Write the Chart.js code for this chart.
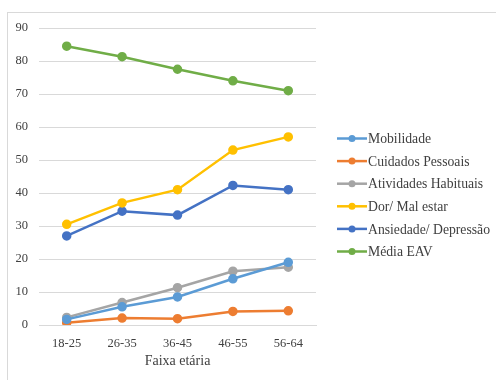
<!DOCTYPE html>
<html>
<head>
<meta charset="utf-8">
<script src="https://cdn.jsdelivr.net/npm/chart.js@4/dist/chart.umd.min.js"></script>
<style>
  html, body { margin: 0; padding: 0; background: #fff; }
  #moldura {
    position: absolute; left: 7px; top: 12px; width: 600px; height: 500px;
    border: 1px solid #d9d9d9; box-sizing: border-box;
  }
  #wrap { position: absolute; left: 0; top: 0; width: 496px; height: 380px; }
</style>
</head>
<body>
<div id="moldura"></div>
<div id="wrap"><canvas id="chartLinhas" width="496" height="380"></canvas></div>
<script>
"use strict";

// Faixas etárias (eixo X) e escores por dimensão
var faixas = ['18-25', '26-35', '36-45', '46-55', '56-64'];

var mobilidade  = [1.7, 5.5, 8.5, 14.0, 19.0];
var cuidados    = [0.7, 2.1, 1.9, 4.1, 4.3];
var atividades  = [2.3, 6.8, 11.3, 16.3, 17.5];
var dor         = [30.5, 37.0, 41.0, 53.0, 57.0];
var ansiedade   = [27.0, 34.5, 33.3, 42.3, 41.0];
var mediaEAV    = [84.5, 81.3, 77.5, 74.0, 71.0];

var FONTE = "'Liberation Serif', 'Times New Roman', serif";

function serie(label, data, cor) {
  return {
    label: label, data: data,
    borderColor: cor, backgroundColor: cor,
    pointBackgroundColor: cor, pointBorderColor: cor,
    borderWidth: 2.5, pointRadius: 3.5, pointHoverRadius: 3.5,
    tension: 0
  };
}

// legenda desenhada à direita: traço + círculo + texto
var legendaLateral = {
  id: 'legendaLateral',
  afterDraw: function(chart) {
    var ctx = chart.ctx;
    var x0 = 337, y0 = 138.5, passo = 22.6;
    ctx.save();
    chart.data.datasets.forEach(function(ds, i) {
      var y = y0 + i * passo;
      ctx.strokeStyle = ds.borderColor;
      ctx.lineWidth = 2.5;
      ctx.beginPath();
      ctx.moveTo(x0, y);
      ctx.lineTo(x0 + 30, y);
      ctx.stroke();
      ctx.fillStyle = ds.borderColor;
      ctx.beginPath();
      ctx.arc(x0 + 15, y, 3.5, 0, Math.PI * 2);
      ctx.fill();
      ctx.fillStyle = '#404040';
      ctx.font = '13.7px ' + FONTE;
      ctx.textBaseline = 'middle';
      ctx.textAlign = 'left';
      ctx.fillText(ds.label, x0 + 31, y + 1);
    });
    ctx.restore();
  }
};

new Chart(document.getElementById('chartLinhas'), {
  type: 'line',
  data: {
    labels: faixas,
    datasets: [
      serie('Mobilidade', mobilidade, '#5B9BD5'),
      serie('Cuidados Pessoais', cuidados, '#ED7D31'),
      serie('Atividades Habituais', atividades, '#A5A5A5'),
      serie('Dor/ Mal estar', dor, '#FFC000'),
      serie('Ansiedade/ Depressão', ansiedade, '#4472C4'),
      serie('Média EAV', mediaEAV, '#70AD47')
    ]
  },
  options: {
    responsive: false,
    animation: false,
    layout: { padding: { top: 28, right: 180, bottom: 10, left: 0 } },
    plugins: {
      legend: { display: false },
      tooltip: { enabled: false }
    },
    scales: {
      x: {
        offset: true,
        grid: { display: false, drawTicks: false },
        border: { display: true, color: '#d9d9d9', width: 1 },
        ticks: { color: '#404040', font: { family: FONTE, size: 12.5 }, padding: 11, maxRotation: 0 },
        title: { display: true, text: 'Faixa etária', color: '#404040', font: { family: FONTE, size: 14 }, padding: { top: 2, bottom: 0 } },
        afterFit: function(scale) { scale.height = 45; }
      },
      y: {
        min: 0, max: 90,
        ticks: { stepSize: 10, color: '#404040', font: { family: FONTE, size: 12.5 }, padding: 11 },
        grid: { color: '#d9d9d9', lineWidth: 1, drawTicks: false },
        border: { display: false },
        afterFit: function(scale) { scale.width = 39; }
      }
    }
  },
  plugins: [legendaLateral]
});
</script>
</body>
</html>
